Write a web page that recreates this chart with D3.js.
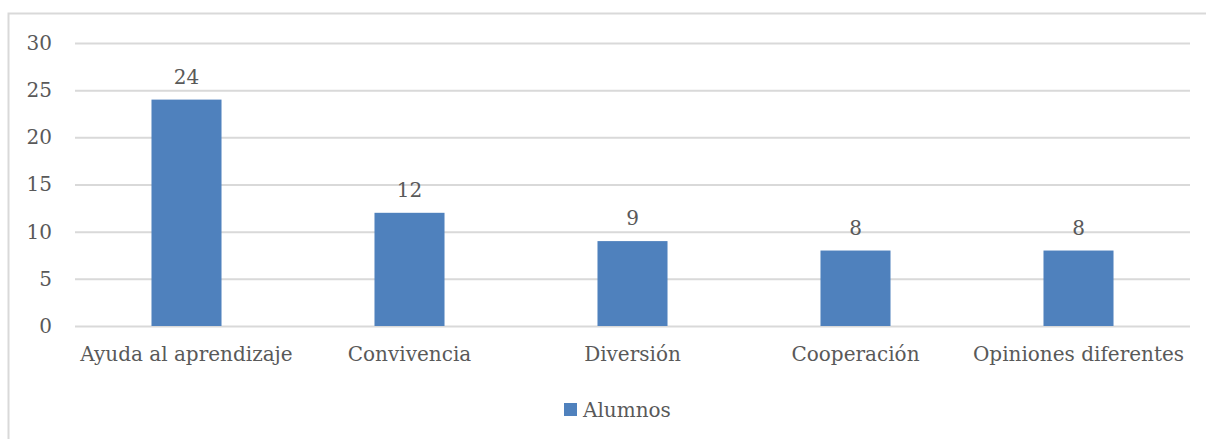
<!DOCTYPE html>
<html>
<head>
<meta charset="utf-8">
<script src="https://cdn.jsdelivr.net/npm/d3@7/dist/d3.min.js"></script>
<style>
  html, body { margin: 0; padding: 0; background: #ffffff; }
  svg { display: block; }
  text { font-family: "DejaVu Serif", serif; fill: #595959; }
</style>
</head>
<body>
<svg id="chart" width="1206" height="439"></svg>
<script>
const categories = ["Ayuda al aprendizaje", "Convivencia", "Diversión", "Cooperación", "Opiniones diferentes"];
const alumnos = [24, 12, 9, 8, 8];
const yTicks = [0, 5, 10, 15, 20, 25, 30];
const seriesName = "Alumnos";

const W = 1206, H = 439;
const fontSize = 20;
const plot = { left: 75, right: 1190, top: 43, bottom: 326 };
const barColor = "#4f81bd";
const gridColor = "#d9d9d9";

const svg = d3.select("#chart");

// outer chart frame
svg.append("rect")
  .attr("x", 8.5).attr("y", 13.5)
  .attr("width", W + 10).attr("height", H + 10)
  .attr("fill", "#fff").attr("stroke", "#d9d9d9").attr("stroke-width", 2);

const x = d3.scaleBand().domain(categories).range([plot.left, plot.right]).paddingInner(0.686).paddingOuter(0.343);
const y = d3.scaleLinear().domain([0, 30]).range([plot.bottom, plot.top]);

// horizontal gridlines and value labels via left axis
const yAxis = d3.axisLeft(y).tickValues(yTicks).tickSize(-(plot.right - plot.left)).tickPadding(23);
const gy = svg.append("g").attr("transform", `translate(${plot.left},0)`).call(yAxis);
gy.select(".domain").remove();
gy.selectAll(".tick line").attr("stroke", gridColor).attr("stroke-width", 2);
gy.selectAll(".tick text").attr("font-size", fontSize).attr("fill", "#595959")
  .attr("font-family", "DejaVu Serif");

// bars
svg.append("g").selectAll("rect").data(alumnos).join("rect")
  .attr("x", (d, i) => x(categories[i]))
  .attr("width", x.bandwidth())
  .attr("y", d => y(d))
  .attr("height", d => y(0) - y(d))
  .attr("fill", barColor);

// value labels
svg.append("g").selectAll("text").data(alumnos).join("text")
  .attr("x", (d, i) => x(categories[i]) + x.bandwidth() / 2)
  .attr("y", d => y(d) - 16)
  .attr("text-anchor", "middle")
  .attr("font-size", fontSize)
  .text(d => d);

// category labels
const xAxis = d3.axisBottom(x).tickSize(0).tickPadding(21);
const gx = svg.append("g").attr("transform", `translate(0,${plot.bottom})`).call(xAxis);
gx.select(".domain").remove();
gx.selectAll(".tick text").attr("font-size", fontSize).attr("fill", "#595959")
  .attr("font-family", "DejaVu Serif");

// legend
const lg = svg.append("g").attr("transform", "translate(564,403)");
lg.append("rect").attr("width", 13).attr("height", 13).attr("fill", barColor);
lg.append("text").attr("x", 19).attr("y", 14).attr("font-size", fontSize).text(seriesName);
</script>
</body>
</html>
